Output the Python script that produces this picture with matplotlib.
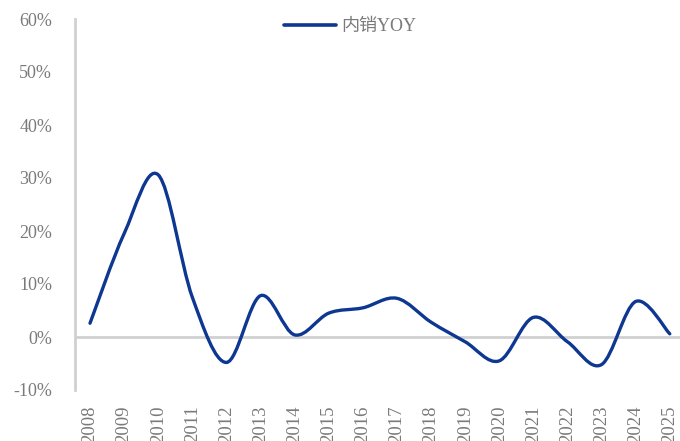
import matplotlib
matplotlib.use("Agg")
import matplotlib.pyplot as plt
import numpy as np
from matplotlib.path import Path
from matplotlib.patches import PathPatch
from matplotlib.lines import Line2D

plt.rcParams['font.family'] = ['Liberation Serif', 'Noto Sans CJK SC']

years = ['2008', '2009', '2010', '2011', '2012', '2013', '2014', '2015', '2016',
         '2017', '2018', '2019', '2020', '2021', '2022', '2023', '2024', '2025']
yoy = [2.6, 19.5, 30.6, 7.5, -4.8, 7.8, 0.4, 4.5, 5.5,
       7.3, 2.8, -0.9, -4.5, 3.7, -0.9, -5.2, 6.7, 0.6]

line_color = '#0d3791'
text_color = '#7a7a7a'
axis_color = '#d0d0d0'


def smooth_path(x, y, t=1 / 6):
    # Excel-style smoothed line: cubic Bezier through each point
    x = np.asarray(x, float)
    y = np.asarray(y, float)
    n = len(x)
    verts = [(x[0], y[0])]
    codes = [Path.MOVETO]
    for i in range(n - 1):
        p0 = i - 1 if i > 0 else i
        p3 = i + 2 if i + 2 < n else i + 1
        c1 = (x[i] + (x[i + 1] - x[p0]) * t, y[i] + (y[i + 1] - y[p0]) * t)
        c2 = (x[i + 1] - (x[p3] - x[i]) * t, y[i + 1] - (y[p3] - y[i]) * t)
        verts += [c1, c2, (x[i + 1], y[i + 1])]
        codes += [Path.CURVE4] * 3
    return Path(verts, codes)


fig = plt.figure(figsize=(6.8, 4.41), dpi=100)
ax = fig.add_axes([75 / 680, 1 - 390 / 441, 1 - 75 / 680, (390 - 19) / 441])

xs = np.arange(len(years))
ax.axhline(0, color=axis_color, lw=2, zorder=1)
patch = PathPatch(smooth_path(xs, yoy), facecolor='none', edgecolor=line_color,
                  lw=2.4, capstyle='round', joinstyle='round', zorder=3)
ax.add_patch(patch)

ax.set_xlim(-0.44, len(years) - 1 + 0.3)
ax.set_ylim(-10, 60)
ax.set_yticks(range(-10, 61, 10))
ax.set_yticklabels([f'{v}%' for v in range(-10, 61, 10)])
ax.set_xticks(xs)
ax.set_xticklabels(years, rotation=90)

for s in ['top', 'right', 'bottom']:
    ax.spines[s].set_visible(False)
ax.spines['left'].set_color(axis_color)
ax.spines['left'].set_linewidth(2)
ax.tick_params(axis='both', length=0, labelcolor=text_color)
ax.tick_params(axis='y', pad=16.5, labelsize=13)
ax.tick_params(axis='x', pad=11, labelsize=13.5)

handle = Line2D([], [], color=line_color, lw=2.6, solid_capstyle='round')
fig.legend([handle], ['内销YOY'], loc='upper center', bbox_to_anchor=(0.515, 0.995),
           frameon=False, fontsize=13, labelcolor=text_color, handlelength=2.9,
           handletextpad=0.3)

fig.savefig('out.png', dpi=100)
